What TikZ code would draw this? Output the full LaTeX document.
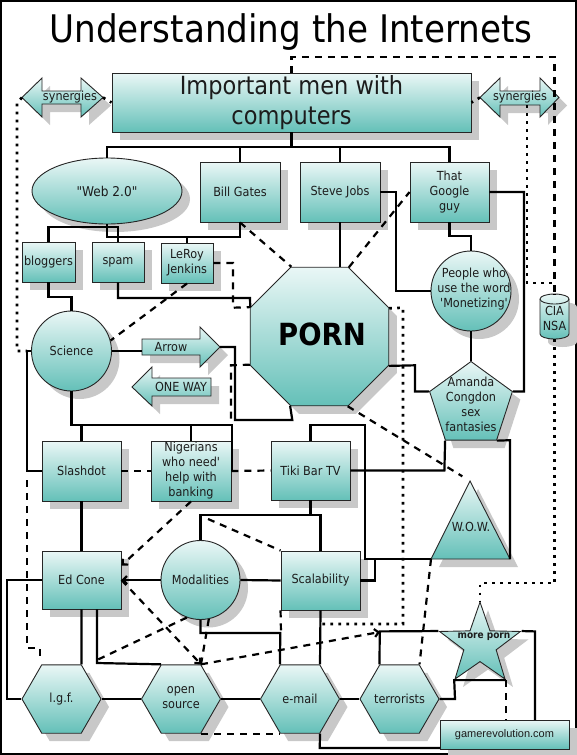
\documentclass[tikz,border=0pt]{standalone}
\usepackage{fontspec}
\setmainfont{DejaVu Sans Condensed}[Ligatures=TeXOff]
\newfontfamily\arialf{Liberation Sans}
\usetikzlibrary{shapes.geometric,shadows,arrows.meta,calc}
\definecolor{tTop}{RGB}{234,247,246}
\definecolor{tBot}{RGB}{100,192,184}
\definecolor{txtc}{RGB}{28,28,28}
\definecolor{shd}{RGB}{200,200,200}
\tikzset{
  shp/.style={draw=black!85, line width=0.9pt, top color=tTop, bottom color=tBot,
    drop shadow={shadow xshift=8pt, shadow yshift=-8pt, fill=shd, opacity=1}},
  nshp/.style={shp, inner sep=0pt, align=center, text=txtc, font=\fontsize{12.5}{15}\selectfont},
  box/.style={nshp, rectangle},
  lbl/.style={inner sep=0pt, align=center, text=txtc, font=\fontsize{12.5}{15}\selectfont},
  con/.style={line width=2.2pt, draw=black},
  dsh/.style={con, dash pattern=on 7pt off 6pt},
  dtt/.style={line width=2.7pt, draw=black, dash pattern=on 2.7pt off 5.3pt},
  tip/.style={-{Straight Barb[length=4pt,width=8pt]}},
}
\begin{document}
\begin{tikzpicture}[x=1pt,y=-1pt]
\useasboundingbox (0,0) rectangle (577,755);
\fill[white] (0,0) rectangle (577,755);
\draw[line width=1.5pt] (1,1) rectangle (576,754);

\node[inner sep=0pt, font=\fontsize{38}{44}\selectfont] (title) at (291,32) {Understanding the Internets};

% ---------- shapes ----------
\node[box, minimum width=359pt, minimum height=59pt, font=\fontsize{25}{30}\selectfont] (top) at (291.5,102.5) {Important men with\\computers};

% synergies double arrows
\path[shp] (22,97.5) -- (42,78) -- (42,91) -- (81,91) -- (81,78) -- (103,97.5) -- (81,117) -- (81,104) -- (42,104) -- (42,117) -- cycle;
\coordinate (synLl) at (22,97.5);
\coordinate (synLr) at (103,97.5);
\node[lbl] (synL) at (70,97) {synergies};
\path[shp] (480,97.5) -- (500,78) -- (500,91) -- (540,91) -- (540,78) -- (559,97.5) -- (540,117) -- (540,105) -- (500,105) -- (500,117) -- cycle;
\coordinate (synRl) at (480,97.5);
\coordinate (synRb) at (527,105);
\node[lbl] (synR) at (520,97) {synergies};

\node[nshp, ellipse, minimum width=150pt, minimum height=66pt, font=\fontsize{13.5}{16}\selectfont] (web) at (107,191) {"Web 2.0"};
\node[box, minimum width=80pt, minimum height=60pt] (bill) at (240,192) {Bill Gates};
\node[box, minimum width=80pt, minimum height=60pt] (steve) at (340,192) {Steve Jobs};
\node[box, minimum width=79pt, minimum height=60pt] (google) at (449.5,192) {That\\Google\\guy};
\node[box, minimum width=53pt, minimum height=40pt] (blog) at (48.5,262) {bloggers};
\node[box, minimum width=52pt, minimum height=40pt] (spam) at (118,262) {spam};
\node[box, minimum width=52pt, minimum height=40pt] (leroy) at (187,263) {LeRoy\\Jenkins};

\node[shp, regular polygon, regular polygon sides=8, minimum size=150pt, inner sep=0pt] (porn) at (319.5,336.5) {};
\node[lbl, font=\fontsize{30.5}{36}\selectfont\bfseries, text=black] (pornT) at (322,334) {PORN};

\node[nshp, circle, minimum size=80pt] (sci) at (71.5,351) {Science};
\node[shp, circle, minimum size=80pt, inner sep=0pt] (people) at (471,291) {};
\node[lbl] (peopleT) at (474,289.5) {People who\\use the word\\'Monetizing'};

% CIA NSA cylinder
\path[shp] (540,299) -- (540,334) arc[start angle=180, end angle=0, x radius=14.5, y radius=5] -- (569,299) arc[start angle=0, end angle=-180, x radius=14.5, y radius=5] -- cycle;
\draw[black!85, line width=0.9pt] (540,299) arc[start angle=180, end angle=0, x radius=14.5, y radius=5];
\coordinate (ciaTop) at (554.5,294);
\coordinate (ciaBot) at (554.5,339);
\node[lbl] (cia) at (554.5,318) {CIA\\NSA};

% Arrow and ONE WAY
\path[shp] (142,339) -- (200,339) -- (200,327) -- (220,347) -- (200,367) -- (200,355) -- (142,355) -- cycle;
\coordinate (arrTail) at (142,351);
\coordinate (arrTip) at (220,347);
\node[lbl] (arrowT) at (171,347) {Arrow};
\path[shp] (132,387) -- (152,367) -- (152,378) -- (211,378) -- (211,396) -- (152,396) -- (152,406) -- cycle;
\node[lbl] (onewayT) at (181,387) {ONE WAY};

\node[shp, regular polygon, regular polygon sides=5, minimum size=87pt, inner sep=0pt] (amanda) at (471,405) {};
\node[lbl] (amandaT) at (471,404.5) {Amanda\\Congdon\\sex\\fantasies};

\node[box, minimum width=79pt, minimum height=60pt] (slash) at (81.5,471) {Slashdot};
\node[box, minimum width=80pt, minimum height=60pt] (nig) at (191,471) {Nigerians\\who need'\\help with\\banking};
\node[box, minimum width=79pt, minimum height=59pt] (tiki) at (310.5,470.5) {Tiki Bar TV};

% W.O.W. triangle
\path[shp] (470,481) -- (510,559) -- (431,559) -- cycle;
\coordinate (wowTop) at (470,481);
\coordinate (wowL) at (431,559);
\coordinate (wowR) at (510,559);
\node[lbl] (wowT) at (471,527) {W.O.W.};

\node[box, minimum width=79pt, minimum height=58pt] (edcone) at (81.5,580) {Ed Cone};
\node[nshp, circle, minimum size=79pt] (modal) at (200.5,580) {Modalities};
\node[box, minimum width=79pt, minimum height=59pt] (scal) at (320.5,580.5) {Scalability};

\node[shp, regular polygon, regular polygon sides=6, minimum size=79pt, inner sep=0pt] (lgf) at (61.5,699) {};
\node[lbl] (lgfT) at (61.5,699) {l.g.f.};
\node[shp, regular polygon, regular polygon sides=6, minimum size=79pt, inner sep=0pt] (os) at (181,699) {};
\node[lbl] (osT) at (181,698) {open\\source};
\node[shp, regular polygon, regular polygon sides=6, minimum size=79pt, inner sep=0pt] (email) at (300,699) {};
\node[lbl] (emailT) at (300,699) {e-mail};
\node[shp, regular polygon, regular polygon sides=6, minimum size=79pt, inner sep=0pt] (terr) at (399.5,699) {};
\node[lbl] (terrT) at (399.5,699) {terrorists};

\node[shp, star, star points=5, star point ratio=2.5, minimum size=85pt, inner sep=0pt] (star) at (480,644.6) {};
\node[lbl, font=\fontsize{10}{12}\selectfont\bfseries] (starT) at (484,637) {more porn};

\node[box, minimum width=129pt, minimum height=29pt, font=\arialf\fontsize{11}{13}\selectfont] (game) at (504.5,734.5) {gamerevolution.com};

% ---------- connectors ----------
\draw[con] (top.south) -- (291.5,147);
\draw[con] (web.north) -- (107,147) -- (449.5,147) -- (google.north);
\draw[con] (bill.north) -- (240,147);
\draw[con] (steve.north) -- (340,147);
\draw[con] (web.south) -- (107,237) -- (187,237) -- (leroy.north);
\draw[con] (bill.south) -- (240,237) -- (187,237);
\draw[con] (blog.north) -- (48.5,227) -- (118,227) -- (spam.north);
\draw[con] (blog.south) -- (48.5,297) -- (71.5,297) -- (sci.north);
\draw[con] (spam.south) -- (118,298) -- (250,298) -- (porn.157.5);
\draw[dsh] (leroy.east) -- (233,263) -- (233,307.7) -- (porn.157.5);
\draw[dsh] (leroy.south) -- (sci.15);
\draw[dsh] (bill.south) -- (porn.112.5);
\draw[con] (steve.south) -- (steve.south |- porn.90);
\draw[con] (steve.east) -- (396,192) -- (396,291) -- (people.west);
\draw[dsh] (porn.67.5) -- (google.west);
\draw[con] (google.south) -- (449.5,236) -- (471,236) -- (people.north);
\draw[con] (people.south) -- (amanda.90);
\draw[con] (google.east) -- (524,192) -- (524,391.6) -- (amanda.18);
\draw[con] (porn.337.5) -- (415,365.3) -- (415,391.6) -- (amanda.162);
\draw[dtt] (porn.22.5) -- (403,307.7) -- (403,624) -- (320.5,624);

\draw[con] (sci.east) -- (arrTail);
\draw[con] (arrTip) -- (235,347) -- (235,420) -- (292.3,420) -- (porn.247.5);
\draw[dsh] (porn.202.5) -- (231,365.3) -- (231,420);
\draw[con] (sci.south) -- (71.5,425) -- (232,425) -- (232,470.5);
\draw[con] (slash.north) -- (81.5,425);
\draw[con] (nig.north) -- (191,425);
\draw[dsh] (slash.east) -- (nig.west);
\draw[dsh] (nig.east) -- (tiki.west);
\draw[con] (sci.west) -- (27,351) -- (27,471) -- (slash.west);
\draw[dtt] (synLl) -- (17,103) -- (17,351) -- (27,351);
\draw[dtt] (synLr) -- (top.west);
\draw[dtt] (synRl) -- (top.east);
\draw[dtt] (synRb) -- (527,283) -- (554.5,283) -- (ciaTop);
\draw[dsh] (top.north) -- (291.5,57) -- (554.5,57) -- (ciaTop);
\draw[dtt] (ciaBot) -- (554.5,583) -- (480,583) -- (star.90);

\draw[con] (tiki.north) -- (310.5,425) -- (365,425) -- (365,559) -- (wowL);
\draw[con] (tiki.east) -- (444.4,470.5) -- (amanda.234);
\draw[con] (amanda.306) -- (510,440.2) -- (wowR);
\draw[dsh, shorten >=9pt] (porn.292.5) -- (wowTop);
\draw[con] (tiki.south) -- (310.5,515);
\draw[con] (modal.north) -- (200.5,515) -- (320.5,515) -- (scal.north);
\coordinate (tkb) at (208,519);
\draw[dsh] (tkb) -- (scal.north west);
\draw[con] (modal.east) -- (scal.west);
\draw[con, tip] (modal.west) -- (edcone.east);
\draw[con] (scal.east) -- (375,580.5) -- (375,559);
\draw[con] (scal.south) -- (email.60);
\draw[con] (modal.south) -- (200.5,633) -- (280.25,633) -- (email.120);
\draw[dsh] (scal.south west) -- (281,633);
\draw[con] (slash.south) -- (edcone.north);
\draw[dsh, tip] (nig.south) -- (edcone.20);
\draw[dsh, tip] (edcone.east) -- (os.60);
\draw[dsh] (modal.250) -- (97,660);
\draw[dsh] (modal.282) -- (os.60);
\draw[dsh, tip] (os.60) -- (380,632);
\draw[con] (terr.120) -- (379.75,631.4) -- (star.162);
\draw[dsh] (wowL) -- (terr.60);
\draw[dsh] (star.306) -- (star.306 |- game.north);
\draw[con] (star.18) -- (535,631.4) -- (535,720);
\draw[con] (terr.east) -- (455,699) -- (star.234) -- (star.306);
\draw[con] (email.300) -- (319.75,748) -- (440,748);
\draw[con] (lgf.east) -- (os.west);
\draw[con] (os.east) -- (email.west);
\draw[con] (email.east) -- (terr.west);
\draw[con] (edcone.west) -- (7,580) -- (7,699) -- (lgf.west);
\draw[con] (edcone.south) -- (lgf.60);
\draw[con] ($(edcone.south)+(15.5,0)$) -- (97,663) -- (os.120);
\draw[dsh] (os.300) -- (email.240);
\draw[dsh] (27,480) -- (27,648) -- (40,648) -- (40,656);
\end{tikzpicture}
\end{document}
